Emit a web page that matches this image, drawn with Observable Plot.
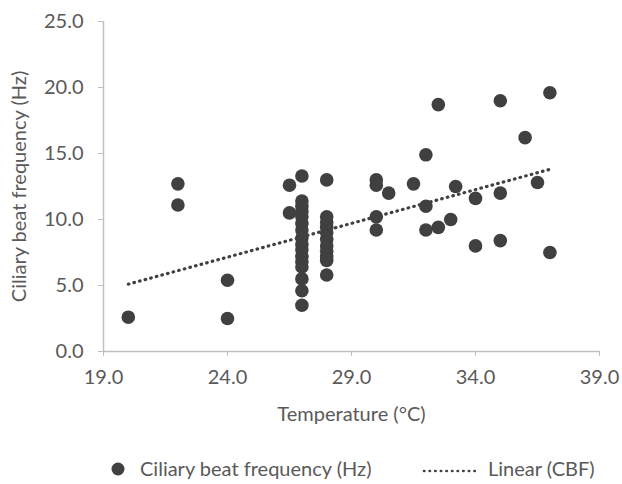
<!DOCTYPE html>
<html>
<head>
<meta charset="utf-8">
<script src="https://cdn.jsdelivr.net/npm/d3@7"></script>
<script src="https://cdn.jsdelivr.net/npm/@observablehq/plot@0.6"></script>
<style>
  html, body { margin: 0; padding: 0; background: #fff; }
  #wrap { position: relative; width: 622px; height: 484px; font-family: Lato, "Open Sans", sans-serif; color: #595959; }
  #legend { position: absolute; left: 0; top: 440px; width: 622px; height: 44px; }
</style>
</head>
<body>
<div id="wrap"><div id="chart"></div><div id="legend"></div></div>
<script>
// Temperature (°C) of each observation
const temperature = [
  20, 22, 22, 24, 24, 26.5, 26.5,
  27, 27, 27, 27, 27, 27, 27, 27, 27, 27, 27, 27, 27, 27, 27, 27,
  28, 28, 28, 28, 28, 28, 28, 28, 28, 28, 28,
  30, 30, 30, 30, 30.5, 31.5, 32, 32, 32, 32.5, 32.5, 33, 33.2,
  34, 34, 35, 35, 35, 36, 36.5, 37, 37
];
// Ciliary beat frequency (Hz) of each observation
const cbf = [
  2.6, 12.7, 11.1, 5.4, 2.5, 12.6, 10.5,
  13.3, 11.4, 11.0, 10.6, 10.2, 9.7, 9.2, 8.6, 8.1, 7.7, 7.2, 6.8, 6.4, 5.5, 4.6, 3.5,
  13.0, 10.2, 9.8, 9.4, 9.0, 8.5, 8.0, 7.6, 7.2, 6.9, 5.8,
  13.0, 12.6, 10.2, 9.2, 12.0, 12.7, 14.9, 11.0, 9.2, 18.7, 9.4, 10.0, 12.5,
  11.6, 8.0, 19.0, 12.0, 8.4, 16.2, 12.8, 19.6, 7.5
];
// Linear trend line (CBF) endpoints
const trendX = [20, 37];
const trendY = [5.1, 13.8];
// Tick values
const xTicks = [19, 24, 29, 34, 39];
const yTicks = [0, 5, 10, 15, 20, 25];

const points = temperature.map((t, i) => ({t, f: cbf[i]}));
const trend = trendX.map((t, i) => ({t, f: trendY[i]}));

const axisGray = "#bfbfbf";
const textGray = "#595959";
const dark = "#404040";
const font = "Lato, 'Open Sans', sans-serif";
const fs = 20;

const chart = Plot.plot({
  width: 622,
  height: 440,
  marginTop: 21,
  marginLeft: 103,
  marginRight: 23,
  marginBottom: 89,
  style: {fontFamily: font, fontSize: fs + "px", color: textGray, background: "#fff"},
  x: {domain: [19, 39], axis: null},
  y: {domain: [0, 25], axis: null},
  marks: [
    Plot.axisX({ticks: xTicks, tickSize: 5, tickFormat: () => "", stroke: axisGray, label: null}),
    Plot.axisX({ticks: xTicks, tickSize: 0, tickPadding: 18, tickFormat: d3.format(".1f"), fill: textGray, label: null, fontSize: fs}),
    Plot.axisY({ticks: yTicks, tickSize: 5, tickFormat: () => "", stroke: axisGray, label: null}),
    Plot.axisY({ticks: yTicks, tickSize: 0, tickPadding: 20, tickFormat: d3.format(".1f"), fill: textGray, label: null, fontSize: fs}),
    Plot.ruleY([0], {stroke: axisGray, strokeWidth: 1.5}),
    Plot.ruleX([19], {stroke: axisGray, strokeWidth: 1.5}),
    Plot.dot(points, {x: "t", y: "f", r: 6.8, fill: dark, stroke: "none"}),
    Plot.line(trend, {x: "t", y: "f", stroke: dark, strokeWidth: 3.2, strokeDasharray: "0.6,5.2", strokeLinecap: "round"}),
    Plot.text(["Temperature (°C)"], {frameAnchor: "bottom", dy: 69, fill: textGray, fontSize: fs}),
    Plot.text(["Ciliary beat frequency (Hz)"], {frameAnchor: "left", textAnchor: "middle", dx: -84, rotate: -90, fill: textGray, fontSize: fs})
  ]
});
document.getElementById("chart").appendChild(chart);

// Legend
const lg = d3.select("#legend").append("svg").attr("width", 622).attr("height", 44)
  .style("font-family", font).style("font-size", fs + "px");
lg.append("circle").attr("cx", 118).attr("cy", 29).attr("r", 6.5).attr("fill", dark);
lg.append("text").attr("x", 140).attr("y", 29).attr("dy", "0.35em").attr("fill", textGray).text("Ciliary beat frequency (Hz)");
lg.append("line").attr("x1", 424).attr("x2", 477).attr("y1", 31).attr("y2", 31)
  .attr("stroke", dark).attr("stroke-width", 2.6).attr("stroke-dasharray", "0.4,5.2").attr("stroke-linecap", "round");
lg.append("text").attr("x", 488).attr("y", 29).attr("dy", "0.35em").attr("fill", textGray).text("Linear (CBF)");
</script>
</body>
</html>
